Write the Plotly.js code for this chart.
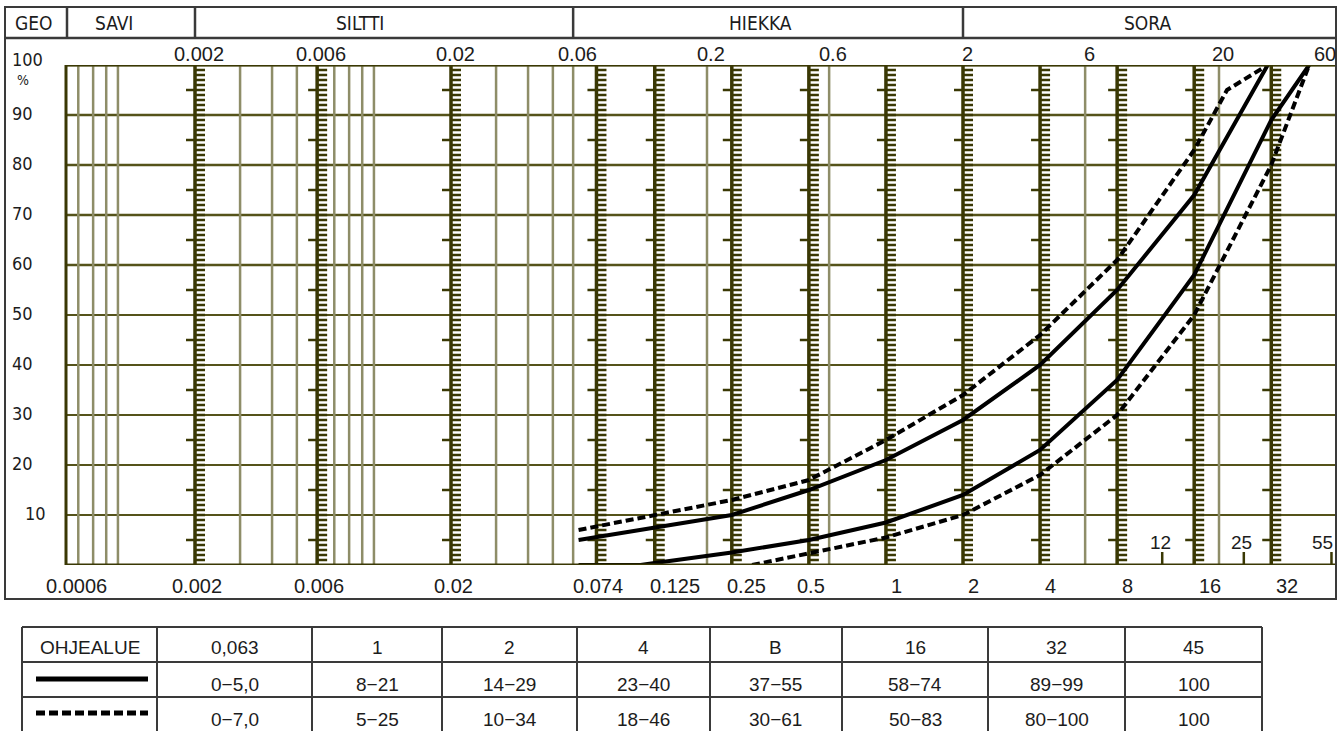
<!DOCTYPE html>
<html><head><meta charset="utf-8">
<script src="https://cdn.plot.ly/plotly-3.0.1.min.js"></script>
<style>html,body{margin:0;padding:0;background:#fff}#chart{width:1344px;height:731px}</style>
</head><body><div id="chart"></div>
<script>
// ---------------- data ----------------
const solidUpperX = [0.063, 0.125, 0.25, 0.5, 1, 2, 4, 8, 16, 31];
const solidUpperY = [5, 7.5, 10, 15, 21, 29, 40, 55, 74, 100];
const solidLowerX = [0.063, 0.11, 0.125, 0.25, 0.5, 1, 2, 4, 8, 16, 32, 45];
const solidLowerY = [0, 0, 0.4, 2.5, 5, 8.5, 14, 23, 37, 58, 89, 100];
const dashUpperX = [0.063, 0.125, 0.25, 0.5, 1, 2, 4, 8, 16, 21.5, 31];
const dashUpperY = [7, 10, 13, 17, 25, 34, 46, 61, 83, 95, 100];
const dashLowerX = [0.3, 0.5, 1, 2, 4, 8, 16, 32, 45];
const dashLowerY = [0, 2.4, 5.5, 10, 18, 30, 50, 80, 100];

const yTicks = [10, 20, 30, 40, 50, 60, 70, 80, 90, 100];
const topTicks = [0.002, 0.006, 0.02, 0.06, 0.2, 0.6, 2, 6, 20];
const topTickText = ['0.002', '0.006', '0.02', '0.06', '0.2', '0.6', '2', '6', '20'];
const topEdgeText = '60';
const bottomTicks = [0.002, 0.006, 0.02, 0.074, 0.125, 0.25, 0.5, 1, 2, 4, 8, 16, 32];
const bottomTickText = ['0.002', '0.006', '0.02', '0.074', '0.125', '0.25', '0.5', '1', '2', '4', '8', '16', '32'];
const bottomEdgeText = '0.0006';
const rulerLines = [0.002, 0.006, 0.02, 0.074, 0.125, 0.25, 0.5, 1, 2, 4, 8, 16, 32];
const thinLines = [0.0007, 0.0008, 0.0009, 0.001, 0.003, 0.004, 0.005, 0.007, 0.008, 0.009, 0.01,
                   0.03, 0.04, 0.05, 0.06, 0.2, 0.6, 6, 20];
const sieveMarks = [12, 25, 55];
const sieveText = ['12', '25', '55'];
const zoneNames = ['GEO', 'SAVI', 'SILTTI', 'HIEKKA', 'SORA'];
const zoneBounds = [0.002, 0.06, 2];
const tableHead = ['OHJEALUE', '0,063', '1', '2', '4', 'B', '16', '32', '45'];
const solidRange = ['0\u22125,0', '8\u221221', '14\u221229', '23\u221240', '37\u221255', '58\u221274', '89\u221299', '100'];
const dashRange = ['0\u22127,0', '5\u221225', '10\u221234', '18\u221246', '30\u221261', '50\u221283', '80\u2212100', '100'];

// ---------------- geometry / style ----------------
const W = 1344, H = 731;
const PX = x => x / W, PY = y => 1 - y / H;
const PL = 66, PR = 1335, PT = 65, PB = 565;
const decadePx = 256, refX = 963, refV = 2;
const xr0 = Math.log10(refV) - (refX - PL) / decadePx;
const xr1 = Math.log10(refV) + (PR - refX) / decadePx;

const OLIVE_DARK = '#3a3804';
const OLIVE_GRID = '#55531a';
const OLIVE_LIGHT = '#8e8d68';
const INK = '#1c1c1c';
const FRAME = '#3a3a3a';
const NARROW = '"Liberation Sans Narrow","DejaVu Sans Condensed","Arial Narrow","Liberation Sans",sans-serif';
const SANS = '"Liberation Sans",Arial,sans-serif';

const shapes = [];
const ann = [];

// horizontal gridlines
yTicks.forEach(v => shapes.push({type: 'line', layer: 'below', xref: 'x domain', yref: 'y',
  x0: 0, x1: 1, y0: v, y1: v, line: {color: OLIVE_GRID, width: v >= 60 ? 2.5 : 2}}));
// thin vertical lines
thinLines.forEach(v => shapes.push({type: 'line', layer: 'below', xref: 'x', yref: 'y',
  x0: v, x1: v, y0: 0, y1: 100, line: {color: OLIVE_LIGHT, width: 2.5}}));
// ruler lines with ticks
rulerLines.forEach(v => {
  shapes.push({type: 'line', layer: 'below', xref: 'x', yref: 'y',
    x0: v, x1: v, y0: -0.6, y1: 100, line: {color: OLIVE_DARK, width: 3.5}});
  let p = '';
  for (let k = 1; k < 100; k++) {
    const l = (k % 5 === 0 && k % 10 !== 0) ? -9 : 0;
    p += 'M' + l + ',' + k + 'L10,' + k;
  }
  shapes.push({type: 'path', layer: 'below', xref: 'x', yref: 'y', xsizemode: 'pixel', xanchor: v,
    path: p, line: {color: OLIVE_DARK, width: 2.3}});
});
// plot frame
shapes.push({type: 'line', xref: 'x domain', yref: 'y', x0: 0, x1: 1, y0: 100, y1: 100, line: {color: OLIVE_DARK, width: 3}});
shapes.push({type: 'line', xref: 'x domain', yref: 'y', x0: 0, x1: 1, y0: 0, y1: 0, line: {color: OLIVE_DARK, width: 3}});
shapes.push({type: 'line', xref: 'x domain', yref: 'y', x0: 0, x1: 0, y0: 0, y1: 100, line: {color: OLIVE_DARK, width: 3}});
// sieve marks
sieveMarks.forEach((v, i) => {
  shapes.push({type: 'line', xref: 'x', yref: 'y', x0: v, x1: v, y0: 0, y1: 2.6, line: {color: OLIVE_DARK, width: 2.5}});
  ann.push({xref: 'x', yref: 'y', x: Math.log10(v), y: 4.6, text: sieveText[i], showarrow: false,
    xanchor: i === 2 ? 'right' : 'center', xshift: i === 2 ? 4 : -2, yanchor: 'middle',
    font: {family: SANS, size: 19, color: INK}});
});

// outer frame and header
shapes.push({type: 'rect', xref: 'paper', yref: 'paper', x0: PX(5), x1: PX(1336), y0: PY(599), y1: PY(7), line: {color: FRAME, width: 2}});
shapes.push({type: 'line', xref: 'paper', yref: 'paper', x0: PX(5), x1: PX(1336), y0: PY(38), y1: PY(38), line: {color: FRAME, width: 2.5}});
shapes.push({type: 'line', xref: 'paper', yref: 'paper', x0: PX(67), x1: PX(67), y0: PY(38), y1: PY(7), line: {color: FRAME, width: 2.5}});
zoneBounds.forEach(v => shapes.push({type: 'line', xref: 'x', yref: 'paper', x0: v, x1: v, y0: PY(38), y1: PY(7), line: {color: FRAME, width: 2.5}}));
const zoneCenters = [34, 114, 360, 760, 1147];
zoneNames.forEach((t, i) => ann.push({xref: 'paper', yref: 'paper', x: PX(zoneCenters[i]), y: PY(23), text: t,
  showarrow: false, xanchor: 'center', yanchor: 'middle', font: {family: NARROW, size: 19, color: INK}}));

// top labels
topTicks.forEach((v, i) => ann.push({xref: 'x', yref: 'paper', x: Math.log10(v), y: PY(54), text: topTickText[i],
  showarrow: false, xanchor: 'center', yanchor: 'middle', xshift: 4, font: {family: SANS, size: 20, color: INK}}));
ann.push({xref: 'paper', yref: 'paper', x: PX(1338), y: PY(54), text: topEdgeText, showarrow: false,
  xanchor: 'right', yanchor: 'middle', font: {family: SANS, size: 20, color: INK}});

// bottom labels
bottomTicks.forEach((v, i) => {
  let xa = 'center', xs = 2;
  if (v >= 1) { xa = 'left'; xs = 3; }
  else if (v === 0.125 || v === 0.25) { xa = 'left'; xs = -7; }
  ann.push({xref: 'x', yref: 'paper', x: Math.log10(v), y: PY(586), text: bottomTickText[i],
    showarrow: false, xanchor: xa, xshift: xs, yanchor: 'middle', font: {family: SANS, size: 20, color: INK}});
});
ann.push({xref: 'paper', yref: 'paper', x: PX(76), y: PY(586), text: bottomEdgeText, showarrow: false,
  xanchor: 'center', yanchor: 'middle', font: {family: SANS, size: 20, color: INK}});

// y labels
yTicks.forEach(v => ann.push({xref: 'paper', yref: 'y', x: PX(v === 10 ? 23 : 10), y: v, text: String(v),
  showarrow: false, xanchor: 'left', yanchor: 'middle', yshift: v === 100 ? 6 : 2,
  font: {family: NARROW, size: 18, color: INK}}));
ann.push({xref: 'paper', yref: 'paper', x: PX(23), y: PY(80), text: '%', showarrow: false,
  xanchor: 'center', yanchor: 'middle', font: {family: NARROW, size: 14, color: INK}});

// table
const colX = [22, 157, 312, 442, 577, 710, 842, 988, 1125, 1262];
const rowY = [627, 662, 697, 740];
rowY.forEach(y => shapes.push({type: 'line', xref: 'paper', yref: 'paper', x0: PX(colX[0]), x1: PX(colX[colX.length - 1]),
  y0: PY(y), y1: PY(y), line: {color: FRAME, width: 2}}));
colX.forEach(x => shapes.push({type: 'line', xref: 'paper', yref: 'paper', x0: PX(x), x1: PX(x),
  y0: PY(rowY[0]), y1: PY(rowY[3]), line: {color: FRAME, width: 2}}));
const cellC = i => (colX[i] + colX[i + 1]) / 2;
tableHead.forEach((t, i) => ann.push({xref: 'paper', yref: 'paper', x: PX(cellC(i)), y: PY(647), text: t,
  showarrow: false, xanchor: 'center', yanchor: 'middle', font: {family: SANS, size: 19, color: INK}}));
solidRange.forEach((t, i) => ann.push({xref: 'paper', yref: 'paper', x: PX(cellC(i + 1)), y: PY(684), text: t,
  showarrow: false, xanchor: 'center', yanchor: 'middle', font: {family: SANS, size: 19, color: INK}}));
dashRange.forEach((t, i) => ann.push({xref: 'paper', yref: 'paper', x: PX(cellC(i + 1)), y: PY(719), text: t,
  showarrow: false, xanchor: 'center', yanchor: 'middle', font: {family: SANS, size: 19, color: INK}}));
shapes.push({type: 'line', xref: 'paper', yref: 'paper', x0: PX(36), x1: PX(148), y0: PY(679), y1: PY(679),
  line: {color: '#000', width: 5}});
shapes.push({type: 'line', xref: 'paper', yref: 'paper', x0: PX(36), x1: PX(148), y0: PY(713), y1: PY(713),
  line: {color: '#000', width: 5, dash: '9px,4px'}});

// ---------------- traces ----------------
const lineStyle = (dash) => ({color: '#000', width: 4, dash: dash});
const traces = [
  {x: solidUpperX, y: solidUpperY, type: 'scatter', mode: 'lines', line: lineStyle('solid'), hoverinfo: 'skip'},
  {x: solidLowerX, y: solidLowerY, type: 'scatter', mode: 'lines', line: lineStyle('solid'), hoverinfo: 'skip'},
  {x: dashUpperX, y: dashUpperY, type: 'scatter', mode: 'lines', line: lineStyle('8px,4px'), hoverinfo: 'skip'},
  {x: dashLowerX, y: dashLowerY, type: 'scatter', mode: 'lines', line: lineStyle('8px,4px'), hoverinfo: 'skip'}
];

const layout = {
  width: W, height: H, margin: {l: 0, r: 0, t: 0, b: 0},
  paper_bgcolor: '#fff', plot_bgcolor: 'rgba(0,0,0,0)', showlegend: false,
  xaxis: {type: 'log', domain: [PX(PL), PX(PR)], range: [xr0, xr1], showgrid: false, zeroline: false,
    showticklabels: false, ticks: '', showline: false, fixedrange: true},
  yaxis: {domain: [PY(PB), PY(PT)], range: [0, 100], showgrid: false, zeroline: false,
    showticklabels: false, ticks: '', showline: false, fixedrange: true},
  shapes: shapes, annotations: ann
};
Plotly.newPlot('chart', traces, layout, {staticPlot: true, displayModeBar: false});
</script>
</body></html>
